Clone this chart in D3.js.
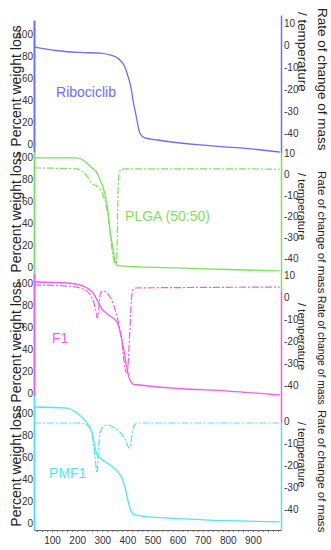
<!DOCTYPE html>
<html>
<head>
<meta charset="utf-8">
<script src="https://cdn.jsdelivr.net/npm/d3@7"></script>
<style>
body { margin: 0; background: #fff; }
svg { display: block; font-family: Arial, "Liberation Sans", sans-serif; }
.tick text { font-family: "Liberation Sans Narrow", "Arial Narrow", Arial, sans-serif; font-size: 10px; fill: #333; }
</style>
</head>
<body>
<script>

// ---------------------------------------------------------------------------
// Data

var names = ['Ribociclib', 'PLGA (50:50)', 'F1', 'PMF1'];
var colors = ['#6e6ef5', '#7fe05e', '#f25ce8', '#4fe6f0'];

var tempTicks = [100, 200, 300, 400, 500, 600, 700, 800, 900];
var weightTicks = [0, 20, 40, 60, 80, 100];
var rateTicks = [10, 0, -10, -20, -30, -40];
var rateTicksLast = [0, -10, -20, -30, -40];

// Ribociclib, percent weight
var riboTemp   = [28, 72, 131, 211, 291, 330, 358, 378, 390, 402, 410, 418, 422, 430, 438, 446, 454, 470, 520, 689, 850, 1007];
var riboWeight = [88.2, 86.4, 84.5, 83.2, 82.5, 80.9, 78.6, 74.5, 70, 61.8, 55.5, 46.4, 40, 31, 21.8, 12.7, 8.2, 5.5, 3.6, -0.9, -3.6, -7.3];

// PLGA (50:50)
var plgaTemp   = [28, 199, 219, 239, 259, 279, 291, 303, 319, 330, 342, 350, 358, 370, 450, 600, 800, 1007];
var plgaWeight = [99.1, 99.1, 97.7, 94.5, 90, 85.5, 79, 72.7, 56.4, 35.5, 17.3, 6.4, 1.8, 0.9, 0, -0.9, -2.3, -3.6];
var plgaRateTemp = [28, 199, 219, 239, 255, 267, 279, 291, 303, 315, 326, 334, 342, 350, 356, 360, 362, 366, 374, 390, 600, 900, 1007];
var plgaRate     = [2.9, 2.4, 1.4, -1, -3.8, -5.2, -5.7, -7.1, -10, -14.8, -22.9, -31.4, -38.6, -42.4, -42.4, -29, -12.4, -0.5, 1.9, 2.4, 2.4, 2.4, 2.2];

// F1
var f1Temp   = [28, 160, 211, 239, 263, 275, 287, 299, 315, 331, 347, 362, 374, 386, 398, 410, 422, 450, 600, 800, 1007];
var f1Weight = [100.9, 100, 98.2, 95.5, 91, 86.4, 81, 76.4, 72.7, 70, 67.3, 62.7, 52.7, 39, 22.7, 11.8, 8.2, 7.3, 4.1, 1.8, -1.8];
var f1RateTemp = [28, 160, 211, 239, 255, 267, 275, 280, 285, 290, 295, 307, 319, 331, 342, 354, 366, 378, 386, 394, 400, 404, 410, 416, 422, 430, 600, 1007];
var f1Rate     = [5.5, 5, 4.1, 2.7, 0.5, -2.7, -6.8, -9.5, -6.8, 0, 2.3, 2.7, 1.8, 0, -2.7, -6.8, -12.7, -20.5, -28.6, -34, -34.5, -28.6, -15, -1.4, 3.2, 4.1, 4.3, 4.5];

// PMF1
var pmf1Temp   = [28, 160, 199, 239, 259, 271, 279, 291, 331, 362, 378, 390, 402, 410, 418, 430, 490, 1007];
var pmf1Weight = [105.5, 104.5, 100, 90.9, 81.8, 69.1, 61.8, 59.1, 52.7, 46.4, 40.9, 32.7, 20.9, 13.6, 9.1, 7.3, 5.5, 0.9];
var pmf1RateTemp = [28, 199, 239, 259, 271, 279, 283, 291, 303, 323, 350, 370, 386, 398, 406, 412, 418, 426, 440, 1007];
var pmf1Rate     = [-0.9, -0.9, -1.8, -5.5, -16.4, -23.6, -16.4, -5.5, -2.7, -1.8, -3.2, -5, -7.3, -10, -12.3, -11.4, -6.8, -2.3, -0.9, -0.9];


// ---------------------------------------------------------------------------
// Layout of the four stacked panels (pixels and axis extents)

var width = 331, height = 550;
var x0 = 34, x1 = 281, axisY = 530;

// leftTitle: centre y of the left title
// rateTitle / tempTitle: [start y, font size] of the two right-hand title lines
var layout = [
    { weight: { range: [152, 20],  domain: [-7.3, 112.7] },
      rate:   { range: [153, 15],  domain: [-49.1, 13.6] }, rTicks: rateTicks,
      label: [116, 42.7], leftTitle: 86,
      rateTitle: [8, 13.5], tempTitle: [12, 13.4] },
    { weight: { range: [273, 152], domain: [-5.5, 104.5] },
      rate:   { range: [290, 153], domain: [-55.2, 10] },   rTicks: rateTicks,
      label: [391, 42], leftTitle: 212,
      rateTitle: [171, 11.6], tempTitle: [173, 11.3] },
    { weight: { range: [396, 273], domain: [-2.7, 109.1] },
      rate:   { range: [423, 290], domain: [-57.3, 3.2] },  rTicks: rateTicks,
      label: [100, 45.5], leftTitle: 342,
      rateTitle: [296, 10.3], tempTitle: [303, 11.3] },
    { weight: { range: [530, 396], domain: [-6.4, 115.5] },
      rate:   { range: [530, 423], domain: [-49.5, -0.9] }, rTicks: rateTicksLast,
      label: [88, 41], leftTitle: 466,
      rateTitle: [410, 11.6], tempTitle: [422, 11] }
];

var weightSeries = [
    d3.zip(riboTemp, riboWeight),
    d3.zip(plgaTemp, plgaWeight),
    d3.zip(f1Temp, f1Weight),
    d3.zip(pmf1Temp, pmf1Weight)
];
var rateSeries = [
    null,
    d3.zip(plgaRateTemp, plgaRate),
    d3.zip(f1RateTemp, f1Rate),
    d3.zip(pmf1RateTemp, pmf1Rate)
];

// plain hyphen for negative ticks, as in the original
function plain(d) { return String(d); }


// ---------------------------------------------------------------------------
// Drawing

var svg = d3.select('body').append('svg')
    .attr('width', width)
    .attr('height', height);

var x = d3.scaleLinear().domain([28, 1012]).range([x0, x1]);

layout.forEach(function (p, i) {
    var color = colors[i];
    var yW = d3.scaleLinear().domain(p.weight.domain).range(p.weight.range);
    var yR = d3.scaleLinear().domain(p.rate.domain).range(p.rate.range);

    var g = svg.append('g').attr('class', 'panel');

    // left axis
    var left = g.append('g')
        .attr('transform', 'translate(' + x0 + ',0)')
        .call(d3.axisLeft(yW).tickValues(weightTicks).tickSize(0).tickPadding(1).tickFormat(plain));
    left.select('.domain').attr('stroke', color).attr('stroke-width', 2);

    // right axis
    var right = g.append('g')
        .attr('transform', 'translate(' + x1 + ',0)')
        .call(d3.axisRight(yR).tickValues(p.rTicks).tickSize(0).tickPadding(3).tickFormat(plain));
    right.select('.domain').attr('stroke', color).attr('stroke-width', 1.5);

    // curves
    var lineW = d3.line()
        .x(function (d) { return x(d[0]); })
        .y(function (d) { return yW(d[1]); })
        .curve(d3.curveMonotoneX);
    var lineR = d3.line()
        .x(function (d) { return x(d[0]); })
        .y(function (d) { return yR(d[1]); })
        .curve(d3.curveMonotoneX);

    g.append('path')
        .datum(weightSeries[i])
        .attr('d', lineW)
        .attr('fill', 'none')
        .attr('stroke', color)
        .attr('stroke-width', 1.3);

    if (rateSeries[i]) {
        g.append('path')
            .datum(rateSeries[i])
            .attr('d', lineR)
            .attr('fill', 'none')
            .attr('stroke', color)
            .attr('stroke-width', 1.2)
            .attr('stroke-dasharray', '7,2,2,2');
    }

    // sample name
    g.append('text')
        .attr('x', x(p.label[0]))
        .attr('y', yW(p.label[1]))
        .attr('fill', color)
        .style('font-size', '14px')
        .text(names[i]);

    // axis titles
    g.append('text')
        .attr('transform', 'translate(21,' + p.leftTitle + ') rotate(-90)')
        .attr('text-anchor', 'middle')
        .attr('fill', '#222')
        .style('font-size', '14px')
        .text('Percent weight loss');

    g.append('text')
        .attr('transform', 'translate(318,' + p.rateTitle[0] + ') rotate(90)')
        .attr('fill', '#222')
        .style('font-size', p.rateTitle[1] + 'px')
        .text('Rate of change of mass');
    g.append('text')
        .attr('transform', 'translate(298,' + p.tempTitle[0] + ') rotate(90)')
        .attr('fill', '#222')
        .style('font-size', p.tempTitle[1] + 'px')
        .text('/ temperature');
});

// shared temperature axis with minor ticks
var minor = svg.append('g')
    .attr('transform', 'translate(0,' + axisY + ')')
    .call(d3.axisBottom(x).tickValues(d3.range(40, 1001, 20)).tickSize(2).tickFormat(''));
minor.select('.domain').remove();
minor.selectAll('line').attr('stroke', '#777');

var bottom = svg.append('g')
    .attr('transform', 'translate(0,' + axisY + ')')
    .call(d3.axisBottom(x).tickValues(tempTicks).tickSize(0).tickPadding(7));
bottom.select('.domain').attr('stroke', '#666').attr('stroke-width', 1.2);

</script>
</body>
</html>
